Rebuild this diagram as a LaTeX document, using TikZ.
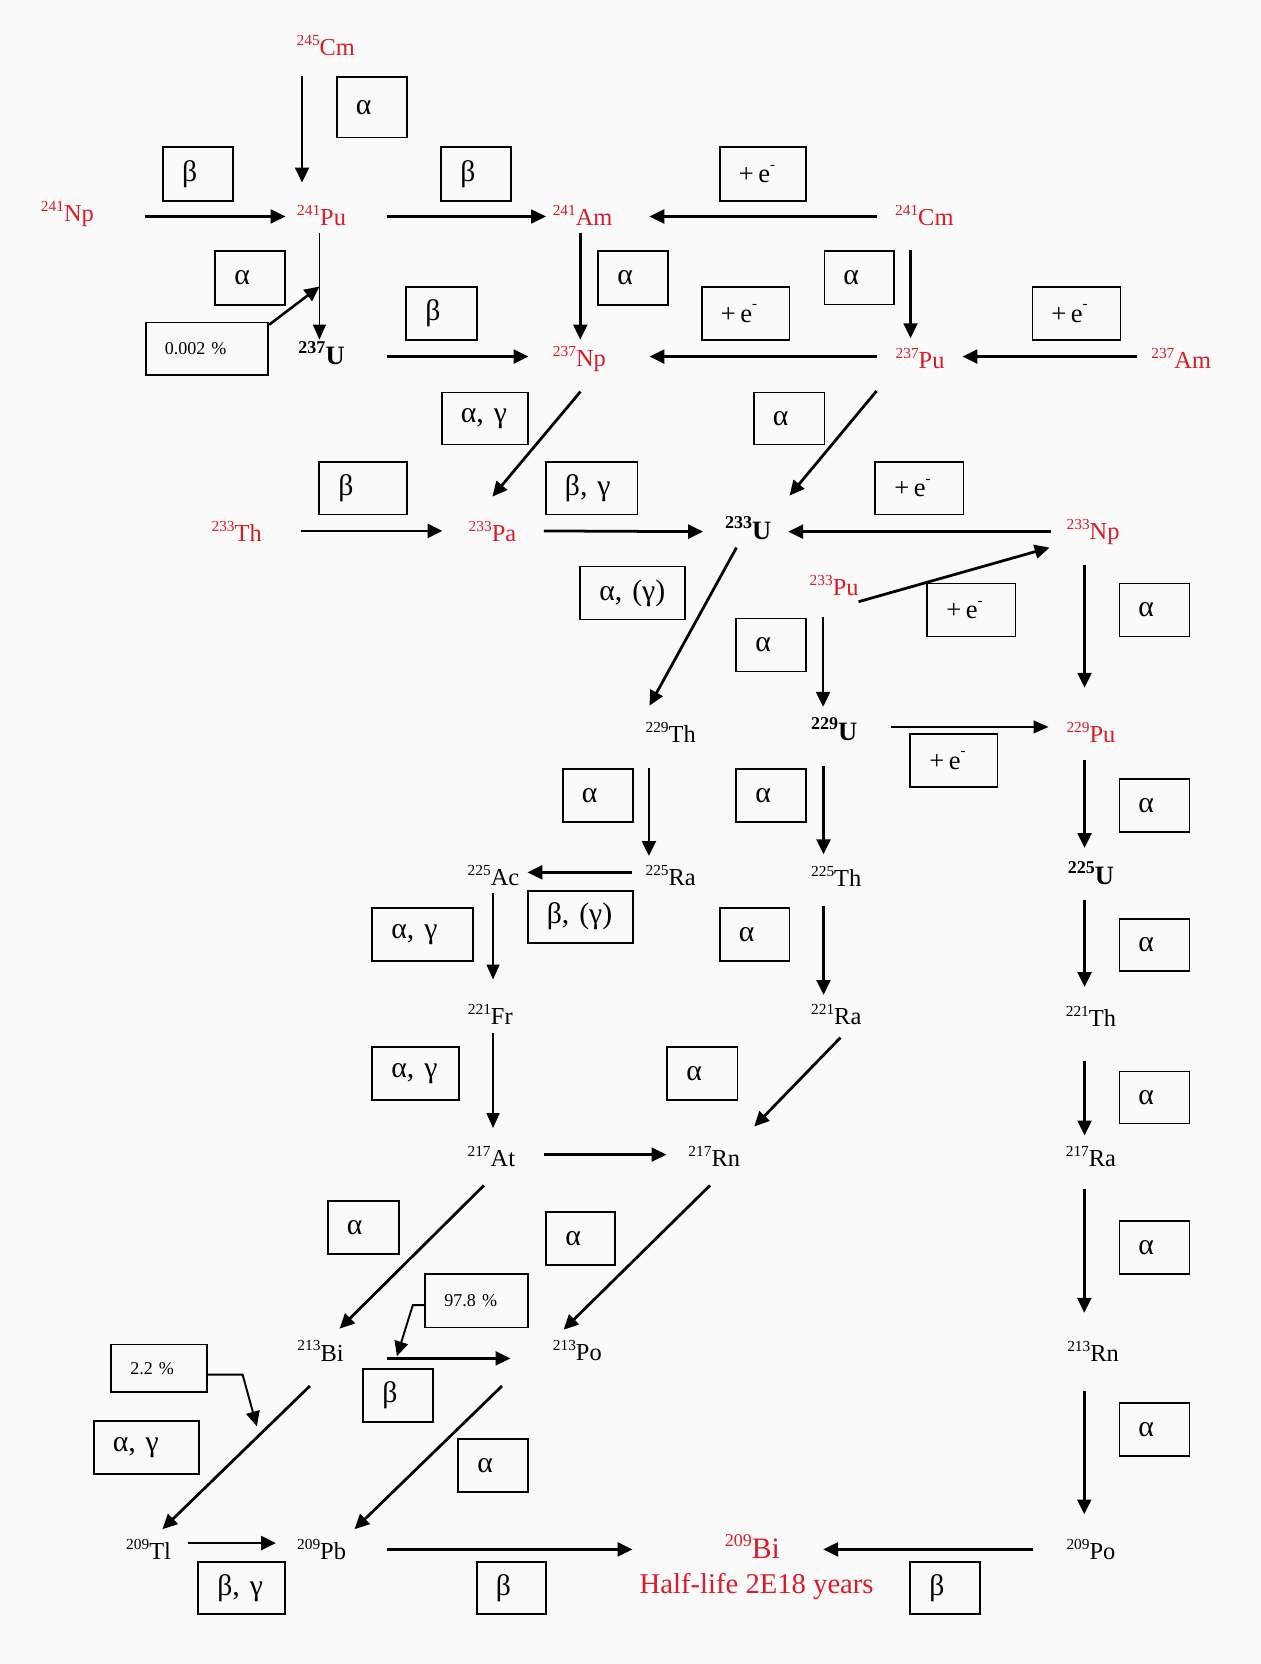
\documentclass[tikz,border=0pt]{standalone}
\usepackage{fontspec}
\setmainfont{Liberation Serif}
\usetikzlibrary{arrows.meta}
\definecolor{nred}{RGB}{218,28,40}
\definecolor{bgc}{RGB}{250,250,250}
\newcommand\nucl[2]{\raisebox{9.5pt}{\fontsize{14.5}{14.5}\selectfont #1}#2}
\newcommand\nuclb[2]{\raisebox{10.5pt}{\fontsize{17}{17}\selectfont\bfseries #1}{\fontsize{25}{25}\selectfont\bfseries #2}}
\newcommand\emin{{\fontsize{25}{25}\selectfont +\,e\raisebox{0.5em}{\fontsize{14}{14}\selectfont -}}}
\newcommand\lbox[7][]{\pgfmathsetmacro\lbW{#5-#3-36}\pgfmathsetmacro\lbH{#6-#4}%
  \node[bx,#1,text width=\lbW pt,minimum height=\lbH pt] (#2) at (#3,#4) {#7};}
\tikzset{
  nuc/.style={inner sep=0pt, font=\fontsize{23}{23}\selectfont},
  rd/.style={nuc, text=nred},
  bx/.style={draw, line width=1.6pt, anchor=north west, inner xsep=18pt, inner ysep=0pt, align=left, font=\fontsize{28}{28}\selectfont},
  pc/.style={font=\fontsize{17}{17}\selectfont},
  ar/.style={line width=2.6pt, -{Triangle[length=14pt,width=13pt]}},
  art/.style={line width=1.6pt, -{Triangle[length=14pt,width=12pt]}},
}
\begin{document}
\begin{tikzpicture}[x=1pt,y=-1pt]
\fill[bgc] (0,0) rectangle (1188,1568);
\useasboundingbox (0,0) rectangle (1188,1568);

% nuclides
\node[rd] (cm245) at (307,43) {\nucl{245}{Cm}};
\node[rd] (np241) at (63.5,202) {\nucl{241}{Np}};
\node[rd] (pu241) at (303,203) {\nucl{241}{Pu}};
\node[rd] (am241) at (549,203) {\nucl{241}{Am}};
\node[rd] (cm241) at (871,203) {\nucl{241}{Cm}};
\node[nuc] (u237) at (303,333) {\nuclb{237}{U}};
\node[rd] (np237) at (546,338) {\nucl{237}{Np}};
\node[rd] (pu237) at (867,338) {\nucl{237}{Pu}};
\node[rd] (am237) at (1113,338) {\nucl{237}{Am}};
\node[rd] (th233) at (223,501) {\nucl{233}{Th}};
\node[rd] (pa233) at (464,501) {\nucl{233}{Pa}};
\node[nuc] (u233) at (705,498) {\nuclb{233}{U}};
\node[rd] (np233) at (1030,501) {\nucl{233}{Np}};
\node[rd] (pu233) at (786,552) {\nucl{233}{Pu}};
\node[nuc] (th229) at (632,690) {\nucl{229}{Th}};
\node[nuc] (u229) at (786,687) {\nuclb{229}{U}};
\node[rd] (pu229) at (1028,690) {\nucl{229}{Pu}};
\node[nuc] (ac225) at (465,825) {\nucl{225}{Ac}};
\node[nuc] (ra225) at (632,825) {\nucl{225}{Ra}};
\node[nuc] (th225) at (788,826) {\nucl{225}{Th}};
\node[nuc] (u225) at (1028,823) {\nuclb{225}{U}};
\node[nuc] (fr221) at (462,956) {\nucl{221}{Fr}};
\node[nuc] (ra221) at (788,956) {\nucl{221}{Ra}};
\node[nuc] (th221) at (1028,958) {\nucl{221}{Th}};
\node[nuc] (at217) at (463,1090) {\nucl{217}{At}};
\node[nuc] (rn217) at (673,1090) {\nucl{217}{Rn}};
\node[nuc] (ra217) at (1028,1090) {\nucl{217}{Ra}};
\node[nuc] (bi213) at (302,1273) {\nucl{213}{Bi}};
\node[nuc] (po213) at (544,1273) {\nucl{213}{Po}};
\node[nuc] (rn213) at (1030,1273) {\nucl{213}{Rn}};
\node[nuc] (tl209) at (140,1460) {\nucl{209}{Tl}};
\node[nuc] (pb209) at (303,1460) {\nucl{209}{Pb}};
\node[nuc] (po209) at (1028,1460) {\nucl{209}{Po}};
\node[nuc, text=nred] (bi209) at (709,1457) {\raisebox{11pt}{\fontsize{17}{17}\selectfont 209}{\fontsize{28}{28}\selectfont Bi}};
\node[nuc, text=nred, font=\fontsize{27}{27}\selectfont] (hl) at (713,1495) {Half-life 2E18 years};

% label boxes
\lbox{b1}{316.5}{71.6}{382.6}{128.8}{α}
\lbox{b2}{152.7}{138}{219}{188.5}{β}
\lbox{b3}{415}{138}{480.7}{188.5}{β}
\lbox{b4}{677.5}{138}{759}{188.5}{\emin}
\lbox{b5}{202}{236}{268}{286.4}{α}
\lbox[pc]{p002}{136.5}{303}{252}{352.7}{0.002 \%}
\lbox{b7}{382}{269.5}{448.7}{319.7}{β}
\lbox{b8}{563}{236}{628.6}{286.4}{α}
\lbox{b9}{660.5}{269.6}{743}{319.6}{\emin}
\lbox{b10}{776}{236}{841.5}{286}{α}
\lbox{b11}{972}{269.6}{1055}{319.6}{\emin}
\lbox{b12}{415.5}{369}{497}{418}{α, γ}
\lbox{b13}{709.5}{369}{776}{418}{α}
\lbox{b14}{300}{434.5}{383}{484}{β}
\lbox{b15}{513.5}{434.5}{600}{484}{β, γ}
\lbox{b16}{824}{434.5}{907}{484}{\emin}
\lbox{b17}{546}{533}{645}{583}{α, (γ)}
\lbox{b18}{873}{549}{956}{599}{\emin}
\lbox{b19}{1054}{549}{1120}{599}{α}
\lbox{b20}{693}{582}{759}{632}{α}
\lbox{b21}{857}{691}{939}{741}{\emin}
\lbox{b22}{529.5}{723.5}{595.5}{773.5}{α}
\lbox{b23}{693}{723.5}{759}{773.5}{α}
\lbox{b24}{1054}{733}{1120}{783}{α}
\lbox{b25}{496.5}{838.5}{595.5}{887.5}{β, (γ)}
\lbox{b26}{350}{854.5}{444.6}{905}{α, γ}
\lbox{b27}{677.5}{854.5}{743}{905}{α}
\lbox{b28}{1054}{865}{1120}{914}{α}
\lbox{b29}{350}{985.5}{432}{1035.5}{α, γ}
\lbox{b30}{628}{985.5}{694}{1035.5}{α}
\lbox{b31}{1054}{1009}{1120}{1058}{α}
\lbox{b32}{308}{1131}{375}{1181}{α}
\lbox{b33}{514}{1141}{579}{1191}{α}
\lbox{b34}{1054}{1150}{1120}{1200}{α}
\lbox[pc]{p978}{400}{1200}{497}{1250}{97.8 \%}
\lbox{b36}{341.5}{1289}{407}{1339}{β}
\lbox[pc]{p22}{104}{1266}{194}{1311}{2.2 \%}
\lbox{b38}{87.5}{1338}{186.6}{1388}{α, γ}
\lbox{b39}{431}{1355}{497}{1405}{α}
\lbox{b40}{1054}{1321}{1120}{1371}{α}
\lbox{b41}{186}{1471}{268}{1520}{β, γ}
\lbox{b42}{448.5}{1471}{514}{1520}{β}
\lbox{b43}{857}{1471}{922.7}{1520}{β}

% branch points
\coordinate (c002) at (301,270);
\coordinate (c978) at (374,1278);
\coordinate (c22) at (242,1344);

% arrows
\draw[ar, line width=2.2pt] ([shift={(-22.4,29)}]cm245.center) -- ([shift={(-18.4,-31)}]pu241.center);
\draw[ar] ([shift={(73,2)}]np241.center) -- ([shift={(-34,1)}]pu241.center);
\draw[ar, line width=2.1pt] ([shift={(62,1)}]pu241.center) -- ([shift={(-34.5,1)}]am241.center);
\draw[ar] ([shift={(-45,1)}]cm241.center) -- ([shift={(63,1)}]am241.center);
\draw[art] ([shift={(-2,17)}]pu241.center) -- ([shift={(-2,-13)}]u237.center);
\draw[ar, line width=2.4pt] ([yshift=-3pt]p002.north east) -- (c002);
\draw[ar] ([shift={(62,3)}]u237.center) -- ([shift={(-48,-2)}]np237.center);
\draw[ar, line width=2.3pt] ([shift={(-2.2,17)}]am241.center) -- ([shift={(0.8,-18)}]np237.center);
\draw[ar] ([shift={(-41,-2)}]pu237.center) -- ([shift={(66,-2)}]np237.center);
\draw[ar, line width=2.3pt] ([shift={(-13,33)}]cm241.center) -- ([shift={(-9,-19.3)}]pu237.center);
\draw[ar] ([shift={(-42,-2)}]am237.center) -- ([shift={(40,-2)}]pu237.center);
\draw[ar] ([shift={(1,31)}]np237.center) -- ([shift={(0,-33)}]pa233.center);
\draw[ar] ([shift={(-41,30.4)}]pu237.center) -- ([shift={(39,-31)}]u233.center);
\draw[ar] ([shift={(60.6,-0.7)}]th233.center) -- ([shift={(-47,-0.7)}]pa233.center);
\draw[ar] ([shift={(48.5,-0.7)}]pa233.center) -- ([shift={(-42.5,3)}]u233.center);
\draw[ar] ([shift={(-39.4,0)}]np233.center) -- ([shift={(37.7,3)}]u233.center);
\draw[ar] ([shift={(-11,18)}]u233.center) -- ([shift={(-20,-25)}]th229.center);
\draw[ar] ([shift={(23,15)}]pu233.center) -- ([shift={(-41,15)}]np233.center);
\draw[ar] ([shift={(-10.4,29)}]pu233.center) -- ([shift={(-10.4,-21)}]u229.center);
\draw[ar] ([shift={(-8,31)}]np233.center) -- ([shift={(-6,-42)}]pu229.center);
\draw[art] ([shift={(54,-2)}]u229.center) -- ([shift={(-40,-5)}]pu229.center);
\draw[ar] ([shift={(-20.5,33.5)}]th229.center) -- ([shift={(-20.5,-18.5)}]ra225.center);
\draw[ar] ([shift={(-10,35)}]u229.center) -- ([shift={(-12,-21)}]th225.center);
\draw[ar] ([shift={(-6,26)}]pu229.center) -- ([shift={(-6,-24)}]u225.center);
\draw[ar] ([shift={(-36,-3)}]ra225.center) -- ([shift={(32,-3)}]ac225.center);
\draw[art] ([shift={(-0.4,16)}]ac225.center) -- ([shift={(2.6,-33)}]fr221.center);
\draw[ar] ([shift={(-12,28)}]th225.center) -- ([shift={(-12,-18.5)}]ra221.center);
\draw[ar] ([shift={(-6,25)}]u225.center) -- ([shift={(-6,-28)}]th221.center);
\draw[art] ([shift={(2.6,17)}]fr221.center) -- ([shift={(1.6,-27)}]at217.center);
\draw[ar] ([shift={(4,21.7)}]ra221.center) -- ([shift={(37.7,-28.5)}]rn217.center);
\draw[ar] ([shift={(-6,42)}]th221.center) -- ([shift={(-6,-20)}]ra217.center);
\draw[ar] ([shift={(49.6,-2)}]at217.center) -- ([shift={(-45,-2)}]rn217.center);
\draw[ar] ([shift={(-7,27)}]at217.center) -- ([shift={(18,-21)}]bi213.center);
\draw[ar] ([shift={(-4,27)}]rn217.center) -- ([shift={(-13,-20)}]po213.center);
\draw[ar] ([shift={(-6.3,30)}]ra217.center) -- ([shift={(-8.3,-36)}]rn213.center);
\draw[ar] ([shift={(63,7)}]bi213.center) -- ([shift={(-63,7)}]po213.center);
\draw[ar, line width=1.8pt] ([yshift=-4pt]p978.west) -- ++(-11,0) -- (c978);
\draw[ar] ([shift={(-10,33)}]bi213.center) -- ([shift={(13,-19)}]tl209.center);
\draw[ar, line width=1.8pt] ([yshift=-6pt]p22.east) -- ++(33,0) -- (c22);
\draw[ar] ([shift={(-71,33)}]po213.center) -- ([shift={(31,-19)}]pb209.center);
\draw[ar] ([shift={(-8.3,38)}]rn213.center) -- ([shift={(-6.3,-33)}]po209.center);
\draw[ar] ([shift={(37,-6)}]tl209.center) -- ([shift={(-43,-6)}]pb209.center);
\draw[ar] ([shift={(62,0)}]pb209.center) -- ([shift={(-113,3)}]bi209.center);
\draw[ar] ([shift={(-55,0)}]po209.center) -- ([shift={(66.7,3)}]bi209.center);
\end{tikzpicture}
\end{document}
